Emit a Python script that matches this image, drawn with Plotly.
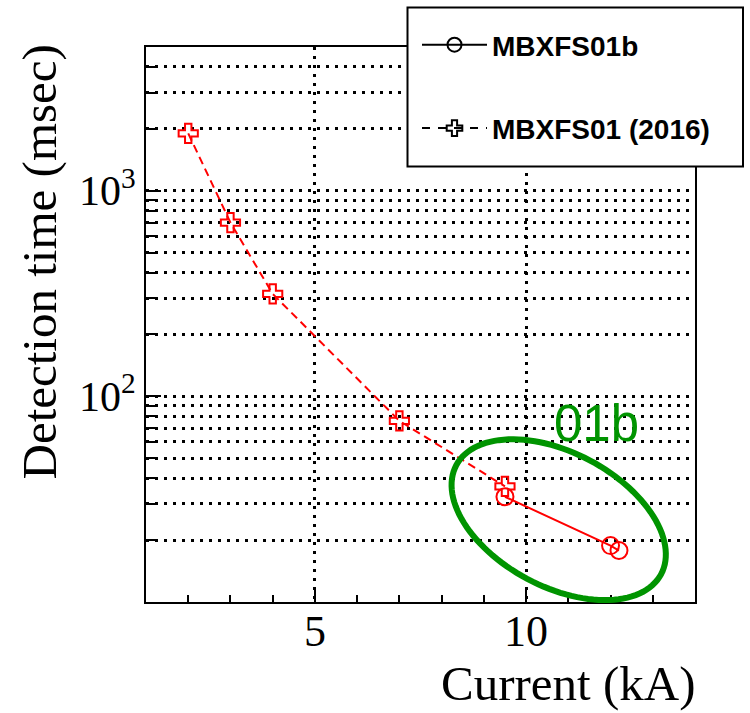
import numpy as np
import plotly.graph_objects as go

# ---------------- data ----------------
name_01b = "MBXFS01b"
name_2016 = "MBXFS01 (2016)"
current_2016 = [2.0, 3.0, 4.0, 7.0, 9.5]          # kA
time_2016 = [1900, 700, 315, 76, 36.5]            # msec
current_01b = [9.5, 12.0, 12.2]                   # kA
time_01b = [32.5, 18.8, 17.8]                     # msec

x_tickvals = [5, 10]
x_ticktext = ["5", "10"]
x_minor = [2, 3, 4, 6, 7, 8, 9, 11, 12, 13]
y_tickvals = [100, 1000]
y_ticktext = ["10<sup>2</sup>", "10<sup>3</sup>"]
y_minor = [20, 30, 40, 50, 60, 70, 80, 90,
           200, 300, 400, 500, 600, 700, 800, 900,
           2000, 3000, 4000]
x_range = [1, 14]
y_range = [10, 5000]

# ---------------- layout geometry (pixels) ----------------
W, H = 750, 713
L, R, T, B = 146, 695, 47, 602
PW, PH = R - L, B - T


def px(xp):
    return (xp - L) / PW


def py(yp):
    return (B - yp) / PH


RED = "#ff0000"
GREEN = "#009400"
SERIF = "Liberation Serif"
SANS = "Liberation Sans"
DOT = "2.5px,6.5px"

fig = go.Figure()
# data traces (red), legend entries are drawn in black like the reference
fig.add_trace(go.Scatter(
    x=current_2016, y=time_2016, mode="lines+markers", name=name_2016,
    showlegend=False,
    line=dict(color=RED, width=2, dash="8px,5px"),
    marker=dict(symbol="cross-open", size=16, color=RED,
                line=dict(color=RED, width=2)),
))
fig.add_trace(go.Scatter(
    x=current_01b, y=time_01b, mode="lines+markers", name=name_01b,
    showlegend=False,
    line=dict(color=RED, width=2),
    marker=dict(symbol="circle-open", size=17, color=RED,
                line=dict(color=RED, width=2)),
))
# legend-only entries (black symbols)
fig.add_trace(go.Scatter(
    x=[None], y=[None], mode="lines+markers", name=name_01b,
    legendgroup="a", legendrank=1,
    line=dict(color="black", width=2),
    marker=dict(symbol="circle-open", size=14, color="black",
                line=dict(color="black", width=2)),
))
fig.add_trace(go.Scatter(
    x=[None], y=[None], mode="lines+markers", name=name_2016,
    legendgroup="b", legendrank=2,
    line=dict(color="black", width=2, dash="8px,8px"),
    marker=dict(symbol="cross-open", size=13, color="black",
                line=dict(color="black", width=2)),
))

# green ellipse (decoration, drawn in pixel space)
cx, cy, a, b, th = 558.7, 519.7, 116, 67, np.radians(28)
t = np.linspace(0, 2 * np.pi, 121)
ex = cx + a * np.cos(t) * np.cos(th) - b * np.sin(t) * np.sin(th)
ey = cy + a * np.cos(t) * np.sin(th) + b * np.sin(t) * np.cos(th)
path = "M " + " L ".join(f"{px(xx):.5f},{py(yy):.5f}" for xx, yy in zip(ex, ey)) + " Z"
shapes = [
    dict(type="path", path=path, xref="paper", yref="paper",
         line=dict(color=GREEN, width=6), layer="above"),
    # legend box
    dict(type="rect", xref="paper", yref="paper",
         x0=px(407.5), x1=px(743), y0=py(166.5), y1=py(7.5),
         fillcolor="white", line=dict(color="black", width=2), layer="above"),
]

annotations = [
    dict(text="01b", xref="paper", yref="paper", x=px(596), y=py(424),
         xanchor="center", yanchor="middle", showarrow=False,
         font=dict(family=SANS, size=51, color=GREEN)),
    dict(text="Current (kA)", xref="paper", yref="paper", x=px(697), y=py(683),
         xanchor="right", yanchor="middle", showarrow=False,
         font=dict(family=SERIF, size=49, color="black")),
    dict(text="Detection time (msec)", xref="paper", yref="paper", x=px(39), y=py(43),
         xanchor="center", yanchor="top", textangle=-90, showarrow=False,
         font=dict(family=SERIF, size=49, color="black")),
]

axis_common = dict(
    showline=True, linewidth=2, linecolor="black", mirror=True,
    ticks="inside", tickwidth=2, tickcolor="black",
    showgrid=True, gridcolor="black", gridwidth=2.5, griddash=DOT,
    zeroline=False,
)

fig.update_layout(
    width=W, height=H,
    margin=dict(l=L, r=W - R, t=T, b=H - B, pad=0),
    paper_bgcolor="white", plot_bgcolor="white",
    xaxis=dict(range=x_range, tickvals=x_tickvals, ticktext=x_ticktext,
               ticklen=13, ticklabelstandoff=-11, **axis_common,
               tickfont=dict(family=SERIF, size=44, color="black"),
               minor=dict(tickvals=x_minor, ticks="inside", ticklen=7,
                          tickwidth=2, tickcolor="black", showgrid=False)),
    yaxis=dict(type="log", range=[np.log10(y_range[0]), np.log10(y_range[1])],
               tickvals=y_tickvals, ticktext=y_ticktext,
               ticklen=15, **axis_common,
               tickfont=dict(family=SERIF, size=42, color="black"),
               minor=dict(tickvals=y_minor, ticks="inside", ticklen=9,
                          tickwidth=2, tickcolor="black", showgrid=True,
                          gridcolor="black", gridwidth=2.5, griddash=DOT)),
    showlegend=True,
    legend=dict(x=px(417), y=py(20), xanchor="left", yanchor="top",
                bgcolor="rgba(0,0,0,0)", borderwidth=0,
                font=dict(family=SANS, size=28, color="black", weight="bold"),
                itemwidth=65, tracegroupgap=44, traceorder="grouped"),
    shapes=shapes,
    annotations=annotations,
)

fig.write_html("out.html")
